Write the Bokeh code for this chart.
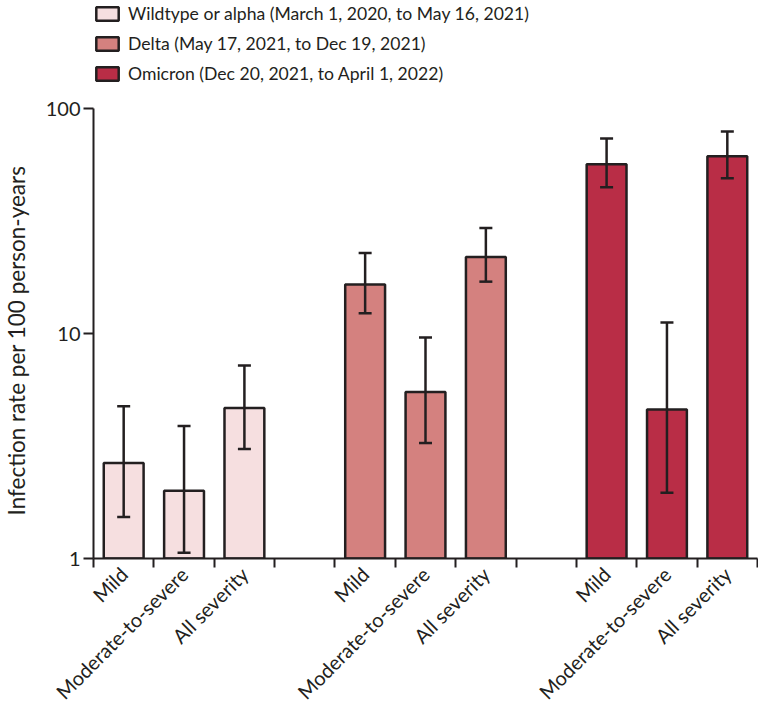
import math
from bokeh.plotting import figure
from bokeh.models import (ColumnDataSource, FixedTicker, Whisker, TeeHead, Legend, LegendItem, Range1d, Title)
from bokeh.embed import file_html
from bokeh.resources import INLINE

variants = ["Wildtype or alpha (March 1, 2020, to May 16, 2021)",
            "Delta (May 17, 2021, to Dec 19, 2021)",
            "Omicron (Dec 20, 2021, to April 1, 2022)"]
severities = ["Mild", "Moderate-to-severe", "All severity"]
colors = ["#F6DFE0", "#D4817F", "#B92D46"]

wild_rate = [2.66, 2.00, 4.66]
wild_lower = [1.53, 1.06, 3.07]
wild_upper = [4.75, 3.88, 7.2]

delta_rate = [16.5, 5.5, 21.9]
delta_lower = [12.3, 3.26, 17.0]
delta_upper = [22.8, 9.6, 29.4]

omi_rate = [56.5, 4.6, 61.4]
omi_lower = [44.7, 1.96, 49.0]
omi_upper = [73.6, 11.2, 79.0]

y_ticks = [1, 10, 100]
y_title = "Infection rate per 100 person-years"

rates = [wild_rate, delta_rate, omi_rate]
lowers = [wild_lower, delta_lower, omi_lower]
uppers = [wild_upper, delta_upper, omi_upper]

INK = "#231F20"
FONT = "Lato"

# frame spans the full height above the x axis; the extra log headroom holds the legend
FRAME_BOTTOM = 558
AXIS_TOP_PX = 108
y_end = 10 ** (2 + 2 * AXIS_TOP_PX / (FRAME_BOTTOM - AXIS_TOP_PX))

p = figure(width=758, height=715, y_axis_type="log", output_backend="svg",
           toolbar_location=None, x_range=Range1d(0, 11), y_range=Range1d(1, y_end),
           min_border_left=92, min_border_right=1, min_border_top=0, min_border_bottom=155)
p.outline_line_color = None
p.grid.grid_line_color = None

slot = len(severities) + 1
centers = []
labels = {}
legend_items = []
for g in range(len(variants)):
    xs = [g * slot + i + 0.5 for i in range(len(severities))]
    centers += xs
    for x, s in zip(xs, severities):
        labels[x] = s
    src = ColumnDataSource(dict(x=xs, top=rates[g], lower=lowers[g], upper=uppers[g]))
    r = p.vbar(x="x", top="top", bottom=1, width=0.66, source=src,
               fill_color=colors[g], line_color=INK, line_width=2.5)
    legend_items.append(LegendItem(label=variants[g], renderers=[r]))
    w = Whisker(source=src, base="x", upper="upper", lower="lower", level="overlay",
                line_color=INK, line_width=2.5,
                upper_head=TeeHead(size=13, line_color=INK, line_width=2.5),
                lower_head=TeeHead(size=13, line_color=INK, line_width=2.5))
    p.add_layout(w)

n_slots = len(variants) * slot - 1
p.xaxis.ticker = FixedTicker(ticks=centers, minor_ticks=list(range(0, n_slots + 1)))
p.xaxis.major_label_overrides = labels
p.xaxis.major_tick_line_color = None
p.xaxis.minor_tick_in = 0
p.xaxis.minor_tick_out = 9
p.xaxis.minor_tick_line_color = INK
p.xaxis.minor_tick_line_width = 2
p.xaxis.major_label_orientation = math.pi / 4
p.xaxis.major_label_text_font = FONT
p.xaxis.major_label_text_font_size = "20px"
p.xaxis.major_label_text_color = INK
p.xaxis.major_label_standoff = 3
p.xaxis.axis_line_color = INK
p.xaxis.axis_line_width = 2

p.yaxis.ticker = FixedTicker(ticks=y_ticks, minor_ticks=[])
p.yaxis.bounds = (y_ticks[0], y_ticks[-1])
p.yaxis.major_label_overrides = {t: str(t) for t in y_ticks}
p.yaxis.major_tick_in = 0
p.yaxis.major_tick_out = 10
p.yaxis.major_tick_line_color = INK
p.yaxis.major_tick_line_width = 2
p.yaxis.axis_line_color = INK
p.yaxis.axis_line_width = 2
p.yaxis.major_label_text_font = FONT
p.yaxis.major_label_text_font_size = "20px"
p.yaxis.major_label_text_color = INK
p.yaxis.major_label_standoff = 3
# blank axis label used only as a spacer between tick labels and the side title
p.yaxis.axis_label = " "
p.yaxis.axis_label_text_font_size = "1px"
p.yaxis.axis_label_standoff = 9

# y-axis title placed along the 1..100 span (the frame also holds the legend headroom)
ytitle = Title(text=y_title, align="left", offset=43, standoff=0,
               text_font=FONT, text_font_size="22.5px", text_font_style="normal",
               text_color=INK)
p.add_layout(ytitle, "left")

legend = Legend(items=legend_items, location=(0, 473), orientation="vertical",
                glyph_width=28, glyph_height=17, label_height=24, spacing=6,
                label_standoff=7, padding=0, margin=0,
                label_text_font=FONT, label_text_font_size="17.6px", label_text_color=INK,
                background_fill_alpha=0, border_line_color=None)
p.add_layout(legend, "center")

open("out.html", "w").write(file_html(p, INLINE))
